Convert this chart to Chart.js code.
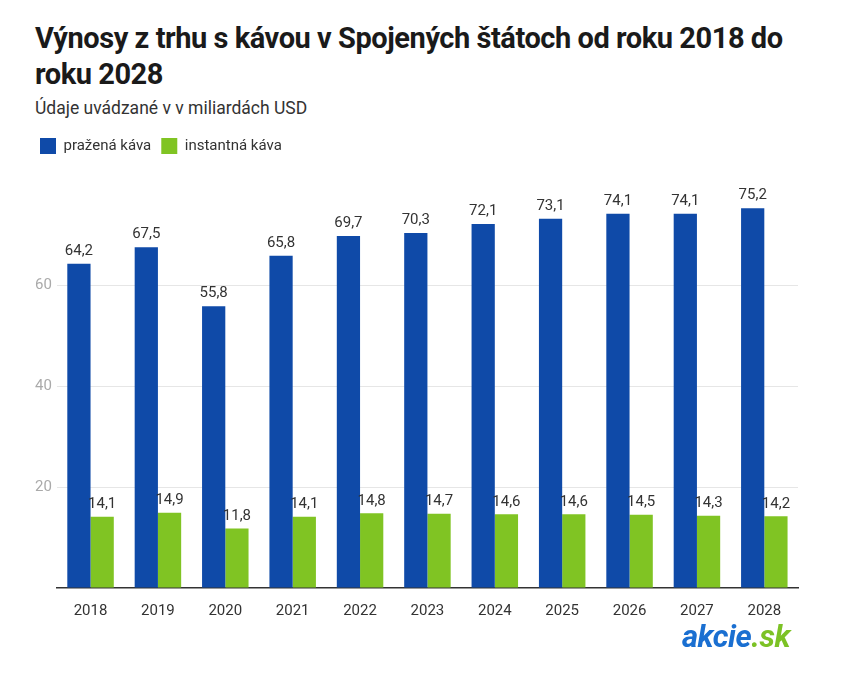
<!DOCTYPE html>
<html>
<head>
<meta charset="utf-8">
<script src="https://cdn.jsdelivr.net/npm/chart.js@4"></script>
<style>
  body { margin: 0; background: #fff; font-family: Roboto, sans-serif; }
  #wrap { position: relative; width: 850px; height: 675px; }
  h1 { position: absolute; left: 35px; top: 20px; margin: 0; font-size: 29px; line-height: 36px;
       font-weight: 700; color: #1a1a1a; letter-spacing: -0.45px; }
  .sub { position: absolute; left: 35px; top: 98px; font-size: 17.5px; color: #333; }
  #chart-box { position: absolute; left: 0; top: 128px; width: 850px; height: 504px; }
  .logo { position: absolute; left: 682px; top: 618px; font-size: 31px; font-weight: 700;
          font-style: italic; color: #1a6fd1; letter-spacing: -0.5px; }
  .logo span { color: #7cc225; }
</style>
</head>
<body>
<div id="wrap">
  <h1>Výnosy z trhu s kávou v Spojených štátoch od roku 2018 do<br>roku 2028</h1>
  <div class="sub">Údaje uvádzané v v miliardách USD</div>
  <div id="chart-box"><canvas id="chart" width="850" height="504"></canvas></div>
  <div class="logo">akcie<span>.sk</span></div>
</div>
<script>
const years = ['2018', '2019', '2020', '2021', '2022', '2023', '2024', '2025', '2026', '2027', '2028'];
const roasted = [64.2, 67.5, 55.8, 65.8, 69.7, 70.3, 72.1, 73.1, 74.1, 74.1, 75.2];
const instant = [14.1, 14.9, 11.8, 14.1, 14.8, 14.7, 14.6, 14.6, 14.5, 14.3, 14.2];

const fmt = v => v.toFixed(1).replace('.', ',');

// value labels above bars
const barLabels = {
    id: 'barLabels',
    afterDatasetsDraw(chart) {
        const ctx = chart.ctx;
        ctx.save();
        ctx.font = '15px Roboto';
        ctx.fillStyle = '#333';
        ctx.textAlign = 'center';
        ctx.textBaseline = 'bottom';
        chart.data.datasets.forEach((ds, i) => {
            chart.getDatasetMeta(i).data.forEach((bar, j) => {
                ctx.fillText(fmt(ds.data[j]), bar.x, bar.y - 5);
            });
        });
        ctx.restore();
    }
};

// extra room under the legend
const legendGap = {
    id: 'legendGap',
    beforeInit(chart) {
        const fit = chart.legend.fit;
        chart.legend.fit = function () {
            fit.call(this);
            this.height += 20;
        };
    }
};

new Chart(document.getElementById('chart'), {
    type: 'bar',
    data: {
        labels: years,
        datasets: [
            { label: 'pražená káva', data: roasted, backgroundColor: '#0f4aa8' },
            { label: 'instantná káva', data: instant, backgroundColor: '#80c423' }
        ]
    },
    options: {
        responsive: false,
        animation: false,
        devicePixelRatio: 1,
        layout: { padding: { left: 30, right: 52, top: 0, bottom: 6 } },
        datasets: { bar: { barPercentage: 1, categoryPercentage: 0.69 } },
        plugins: {
            legend: {
                align: 'start',
                labels: {
                    boxWidth: 16, boxHeight: 16, padding: 10,
                    color: '#333', font: { family: 'Roboto', size: 15 }
                }
            },
            tooltip: { enabled: false }
        },
        scales: {
            x: {
                grid: { display: false },
                border: { color: '#333', width: 1.5 },
                ticks: { color: '#333', font: { family: 'Roboto', size: 15 }, padding: 6, maxRotation: 0 }
            },
            y: {
                min: 0, max: 80,
                border: { display: false },
                grid: {
                    color: c => (c.tick.value === 0 || c.tick.value === 80) ? 'rgba(0,0,0,0)' : '#e6e6e6',
                    drawTicks: false
                },
                ticks: {
                    stepSize: 20, padding: 5,
                    color: '#aaa', font: { family: 'Roboto', size: 15 },
                    callback: v => (v === 0 || v === 80) ? '' : v
                }
            }
        }
    },
    plugins: [barLabels, legendGap]
});
</script>
</body>
</html>
